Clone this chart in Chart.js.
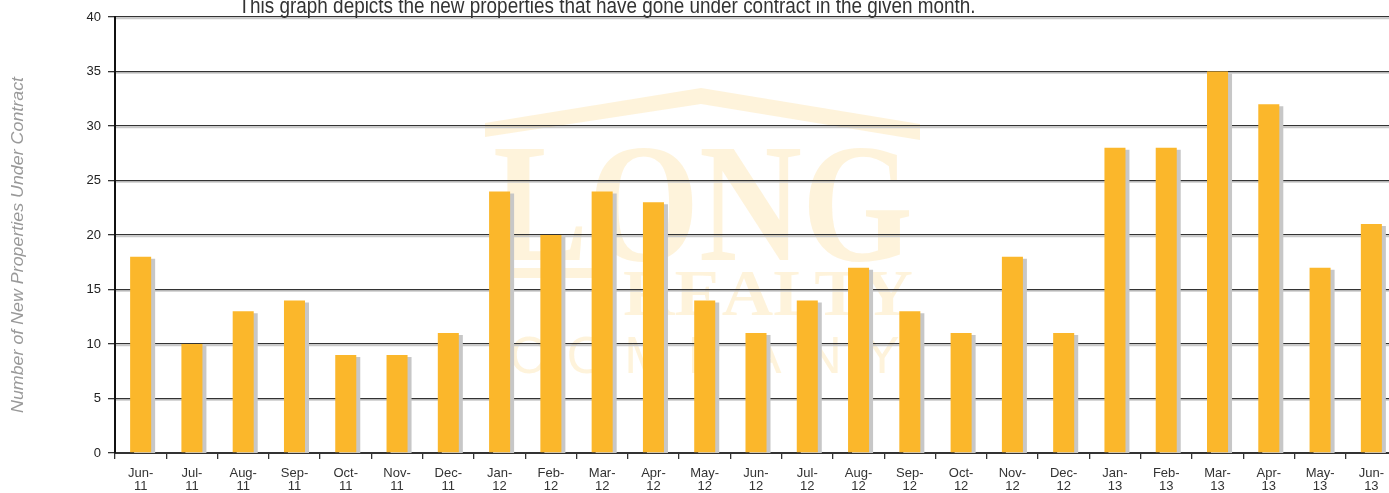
<!DOCTYPE html>
<html>
<head>
<meta charset="utf-8">
<script src="https://cdn.jsdelivr.net/npm/chart.js@4"></script>
<style>
  html, body { margin: 0; padding: 0; background: #fff; overflow: hidden; }
  #wrap { position: absolute; left: 0; top: 0; width: 1397px; height: 493px; }
</style>
</head>
<body>
<div id="wrap"><canvas id="contractsChart"></canvas></div>
<script>
// months shown on the x axis (two-line labels)
const months = [
  ['Jun-', '11'], ['Jul-', '11'], ['Aug-', '11'], ['Sep-', '11'], ['Oct-', '11'], ['Nov-', '11'], ['Dec-', '11'],
  ['Jan-', '12'], ['Feb-', '12'], ['Mar-', '12'], ['Apr-', '12'], ['May-', '12'], ['Jun-', '12'], ['Jul-', '12'],
  ['Aug-', '12'], ['Sep-', '12'], ['Oct-', '12'], ['Nov-', '12'], ['Dec-', '12'],
  ['Jan-', '13'], ['Feb-', '13'], ['Mar-', '13'], ['Apr-', '13'], ['May-', '13'], ['Jun-', '13']
];
// new properties under contract per month
const newContracts = [18, 10, 13, 14, 9, 9, 11, 24, 20, 24, 23, 14, 11, 14, 17, 13, 11, 18, 11, 28, 28, 35, 32, 17, 21];
// y axis ticks
const yTicks = [0, 5, 10, 15, 20, 25, 30, 35, 40];

const titleText = 'This graph depicts the new properties that have gone under contract in the given month.';
const yAxisTitle = 'Number of New Properties Under Contract';

const BAR_COLOR = '#fbb72b';
const SHADOW_COLOR = '#c7c7c7';
const WATERMARK = 'rgba(251, 184, 41, 0.17)';
const NARROW = '"Liberation Sans Narrow", "Liberation Sans", Arial, sans-serif';

// faint company logo behind the grid
const watermarkPlugin = {
  id: 'watermark',
  beforeDraw(chart) {
    const ctx = chart.ctx;
    ctx.save();
    ctx.fillStyle = WATERMARK;
    // roof
    ctx.beginPath();
    ctx.moveTo(485, 123);
    ctx.lineTo(701, 88);
    ctx.lineTo(920, 124);
    ctx.lineTo(920, 140);
    ctx.lineTo(701, 104);
    ctx.lineTo(485, 137);
    ctx.closePath();
    ctx.fill();

    // "LONG"
    drawFitted(ctx, 'LONG', 'bold 170px "Liberation Serif", "DejaVu Serif", serif', 493, 913, 260);
    // "REALTY"
    drawFitted(ctx, 'REALTY', 'bold 66px "Liberation Serif", "DejaVu Serif", serif', 623, 913, 315);
    ctx.fillRect(513, 268, 100, 10);
    // "COMPANY"
    ctx.font = '52px "Liberation Sans", Arial, sans-serif';
    ctx.textAlign = 'center';
    ctx.textBaseline = 'alphabetic';
    'COMPANY'.split('').forEach((ch, i) => {
      ctx.fillText(ch, 528 + i * 59, 373);
    });
    ctx.restore();
  }
};

function drawFitted(ctx, text, font, x0, x1, baseline) {
  ctx.font = font;
  ctx.textAlign = 'left';
  ctx.textBaseline = 'alphabetic';
  const w = ctx.measureText(text).width;
  ctx.save();
  ctx.translate(x0, baseline);
  ctx.scale((x1 - x0) / w, 1);
  ctx.fillText(text, 0, 0);
  ctx.restore();
}

// light grey line under each gridline
const gridShadowPlugin = {
  id: 'gridShadow',
  beforeDraw(chart) {
    const { ctx, chartArea } = chart;
    const y = chart.scales.y;
    ctx.save();
    ctx.strokeStyle = '#c9c9c9';
    ctx.lineWidth = 1.2;
    yTicks.forEach(v => {
      if (v === 0) return;
      const py = y.getPixelForValue(v) + 1.6;
      ctx.beginPath();
      ctx.moveTo(chartArea.left, py);
      ctx.lineTo(chartArea.right, py);
      ctx.stroke();
    });
    ctx.restore();
  }
};

// grey drop shadow to the lower right of each bar
const barShadowPlugin = {
  id: 'barShadow',
  beforeDatasetDraw(chart) {
    const ctx = chart.ctx;
    ctx.save();
    ctx.shadowColor = SHADOW_COLOR;
    ctx.shadowOffsetX = 4;
    ctx.shadowOffsetY = 2;
    ctx.shadowBlur = 0;
  },
  afterDatasetDraw(chart) {
    chart.ctx.restore();
  }
};

// heading (partly cut at the top of the page) and the rotated y axis caption
const textPlugin = {
  id: 'pageText',
  afterDraw(chart) {
    const ctx = chart.ctx;
    ctx.save();
    ctx.font = '22px ' + NARROW;
    ctx.fillStyle = '#333';
    ctx.textAlign = 'center';
    ctx.textBaseline = 'alphabetic';
    const w = ctx.measureText(titleText).width;
    ctx.translate(607, 13);
    ctx.scale(737 / w, 1);
    ctx.fillText(titleText, 0, 0);
    ctx.restore();

    ctx.save();
    ctx.font = 'italic 17px ' + NARROW;
    ctx.fillStyle = '#999';
    ctx.textAlign = 'center';
    ctx.textBaseline = 'middle';
    const tw = ctx.measureText(yAxisTitle).width;
    ctx.translate(18, 245);
    ctx.rotate(-Math.PI / 2);
    ctx.scale(336 / tw, 1);
    ctx.fillText(yAxisTitle, 0, 0);
    ctx.restore();
  }
};

const ctx = document.getElementById('contractsChart').getContext('2d');
new Chart(ctx, {
  type: 'bar',
  data: {
    labels: months,
    datasets: [{
      label: 'New Properties Under Contract',
      data: newContracts,
      backgroundColor: BAR_COLOR,
      borderWidth: 0,
      barPercentage: 0.82,
      categoryPercentage: 0.5
    }]
  },
  options: {
    responsive: true,
    maintainAspectRatio: false,
    animation: false,
    layout: { padding: { top: 17, right: 0, left: 0, bottom: 0 } },
    plugins: {
      legend: { display: false },
      title: { display: false },
      tooltip: { enabled: false }
    },
    scales: {
      x: {
        offset: true,
        grid: {
          offset: true,
          drawOnChartArea: false,
          drawTicks: true,
          tickLength: 6,
          color: '#333',
          lineWidth: 1.3
        },
        border: { display: true, color: '#333', width: 2 },
        ticks: {
          color: '#333',
          padding: 8,
          maxRotation: 0,
          autoSkip: false,
          font: { family: 'Liberation Sans, Arial, sans-serif', size: 13, lineHeight: 1.0 }
        },
        afterFit(scale) { scale.height = 40; }
      },
      y: {
        min: 0,
        max: 40,
        ticks: {
          stepSize: 5,
          color: '#222',
          padding: 7,
          font: { family: 'Liberation Sans, Arial, sans-serif', size: 13 }
        },
        grid: {
          color: '#333',
          lineWidth: 1.3,
          drawTicks: true,
          tickLength: 7
        },
        border: { display: true, color: '#111', width: 2 },
        afterFit(scale) { scale.width = 115; }
      }
    }
  },
  plugins: [watermarkPlugin, gridShadowPlugin, barShadowPlugin, textPlugin]
});
</script>
</body>
</html>
